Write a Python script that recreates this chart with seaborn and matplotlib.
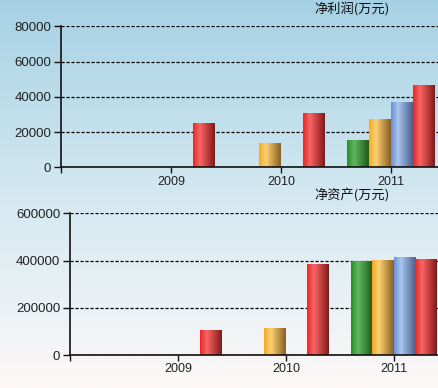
import matplotlib
matplotlib.use('Agg')
import matplotlib.pyplot as plt
import matplotlib.colors as mcolors
import numpy as np
import pandas as pd
import seaborn as sns

# Data (万元)
years_profit = [2009, 2010, 2010, 2011, 2011, 2011, 2011]
quarters_profit = ['Q4', 'Q2', 'Q4', 'Q1', 'Q2', 'Q3', 'Q4']
net_profit = [25300, 13600, 30600, 15300, 27200, 37000, 46700]

years_assets = [2009, 2010, 2010, 2011, 2011, 2011, 2011]
quarters_assets = ['Q4', 'Q2', 'Q4', 'Q1', 'Q2', 'Q3', 'Q4']
net_assets = [105000, 114000, 385000, 400000, 401000, 416000, 406000]

quarter_order = ['Q1', 'Q2', 'Q3', 'Q4']
tick_years = [2008, 2009, 2010, 2011]
tick_labels = ['', '2009', '2010', '2011']

# cylinder shading per quarter: (left, highlight, right)
shades = {
    'Q1': ['#2b8a2b', '#5fb85f', '#1d5a1d'],
    'Q2': ['#efac2c', '#fcd070', '#8a6020'],
    'Q3': ['#6f8fd0', '#a9c6f0', '#4a5f8e'],
    'Q4': ['#e02c2c', '#fc6464', '#861818'],
}
palette = {q: c[0] for q, c in shades.items()}

df_profit = pd.DataFrame({'Year': years_profit, 'Quarter': quarters_profit, 'Value': net_profit})
df_assets = pd.DataFrame({'Year': years_assets, 'Quarter': quarters_assets, 'Value': net_assets})

sns.set_theme(style='white')
plt.rcParams['font.family'] = ['Liberation Sans', 'Noto Sans CJK SC', 'DejaVu Sans']

fig = plt.figure(figsize=(4.38, 3.88), dpi=100)

# gradient background
bg = fig.add_axes([0, 0, 1, 1], zorder=-10)
bg_cmap = mcolors.LinearSegmentedColormap.from_list(
    'bg', [(0, '#a6d1e4'), (0.5, '#d3e8f1'), (1, '#fdf8f8')])
bg.imshow(np.linspace(0, 1, 256).reshape(-1, 1), cmap=bg_cmap, aspect='auto',
          extent=[0, 1, 0, 1])
bg.set_axis_off()


def shade_bars(ax):
    for patch in list(ax.patches):
        w = patch.get_width()
        h = patch.get_height()
        if w == 0 or h == 0 or np.isnan(h):
            continue
        fc = mcolors.to_hex(patch.get_facecolor())
        q = [k for k, v in palette.items() if v.lower() == fc.lower()]
        if not q:
            continue
        left, hi, right = shades[q[0]]
        cmap = mcolors.LinearSegmentedColormap.from_list(
            'bar', [(0, left), (0.32, hi), (1, right)])
        x0 = patch.get_x()
        im = ax.imshow(np.linspace(0, 1, 64).reshape(1, -1), cmap=cmap,
                       aspect='auto', extent=[x0, x0 + w, 0, h], zorder=3)
        im.set_clip_path(patch)
        patch.set_edgecolor('none')


def style_axes(ax, ymax, ystep, xmax):
    ax.set_facecolor('none')
    ax.set_xlim(2008, xmax)
    ax.set_ylim(0, ymax)
    ax.set_yticks(np.arange(0, ymax + 1, ystep))
    ax.set_yticklabels([f'{int(v)}' for v in np.arange(0, ymax + 1, ystep)],
                       fontsize=9.5, color='#222222')
    ax.set_xticks(tick_years)
    ax.set_xticklabels(tick_labels, fontsize=9, color='#222222')
    ax.set_xlabel('')
    ax.set_ylabel('')
    for s in ['top', 'right']:
        ax.spines[s].set_visible(False)
    for s in ['left', 'bottom']:
        ax.spines[s].set_color('#111111')
        ax.spines[s].set_linewidth(1.2)
        ax.spines[s].set_zorder(5)
    ax.tick_params(axis='y', direction='out', length=5, width=1, color='#111111', pad=2, left=True)
    ax.tick_params(axis='x', direction='out', length=4, width=1, color='#111111', pad=2, bottom=True)
    ax.yaxis.grid(True, color='black', linestyle=(0, (2.5, 1.5)), linewidth=0.9)
    ax.set_axisbelow(True)
    leg = ax.get_legend()
    if leg is not None:
        leg.remove()


# 净利润
ax1 = fig.add_axes([61 / 438, 1 - 167.3 / 388, 1 - 61 / 438, (167.3 - 26.3) / 388])
sns.barplot(data=df_profit, x='Year', y='Value', hue='Quarter', hue_order=quarter_order,
            palette=palette, native_scale=True, width=0.8, saturation=1, ax=ax1)
shade_bars(ax1)
style_axes(ax1, 80000, 20000, 2011.43)

# 净资产
ax2 = fig.add_axes([70 / 438, 1 - 355 / 388, 1 - 70 / 438, (355 - 213.3) / 388])
sns.barplot(data=df_assets, x='Year', y='Value', hue='Quarter', hue_order=quarter_order,
            palette=palette, native_scale=True, width=0.8, saturation=1, ax=ax2)
shade_bars(ax2)
style_axes(ax2, 600000, 200000, 2011.41)

fig.text(352 / 438, 1 - 9 / 388, '净利润(万元)', ha='center', va='center', fontsize=9.5,
         color='#111111', family=['Noto Sans CJK SC', 'DejaVu Sans'])
fig.text(352 / 438, 1 - 196 / 388, '净资产(万元)', ha='center', va='center', fontsize=9.5,
         color='#111111', family=['Noto Sans CJK SC', 'DejaVu Sans'])

fig.savefig('out.png', dpi=100)
